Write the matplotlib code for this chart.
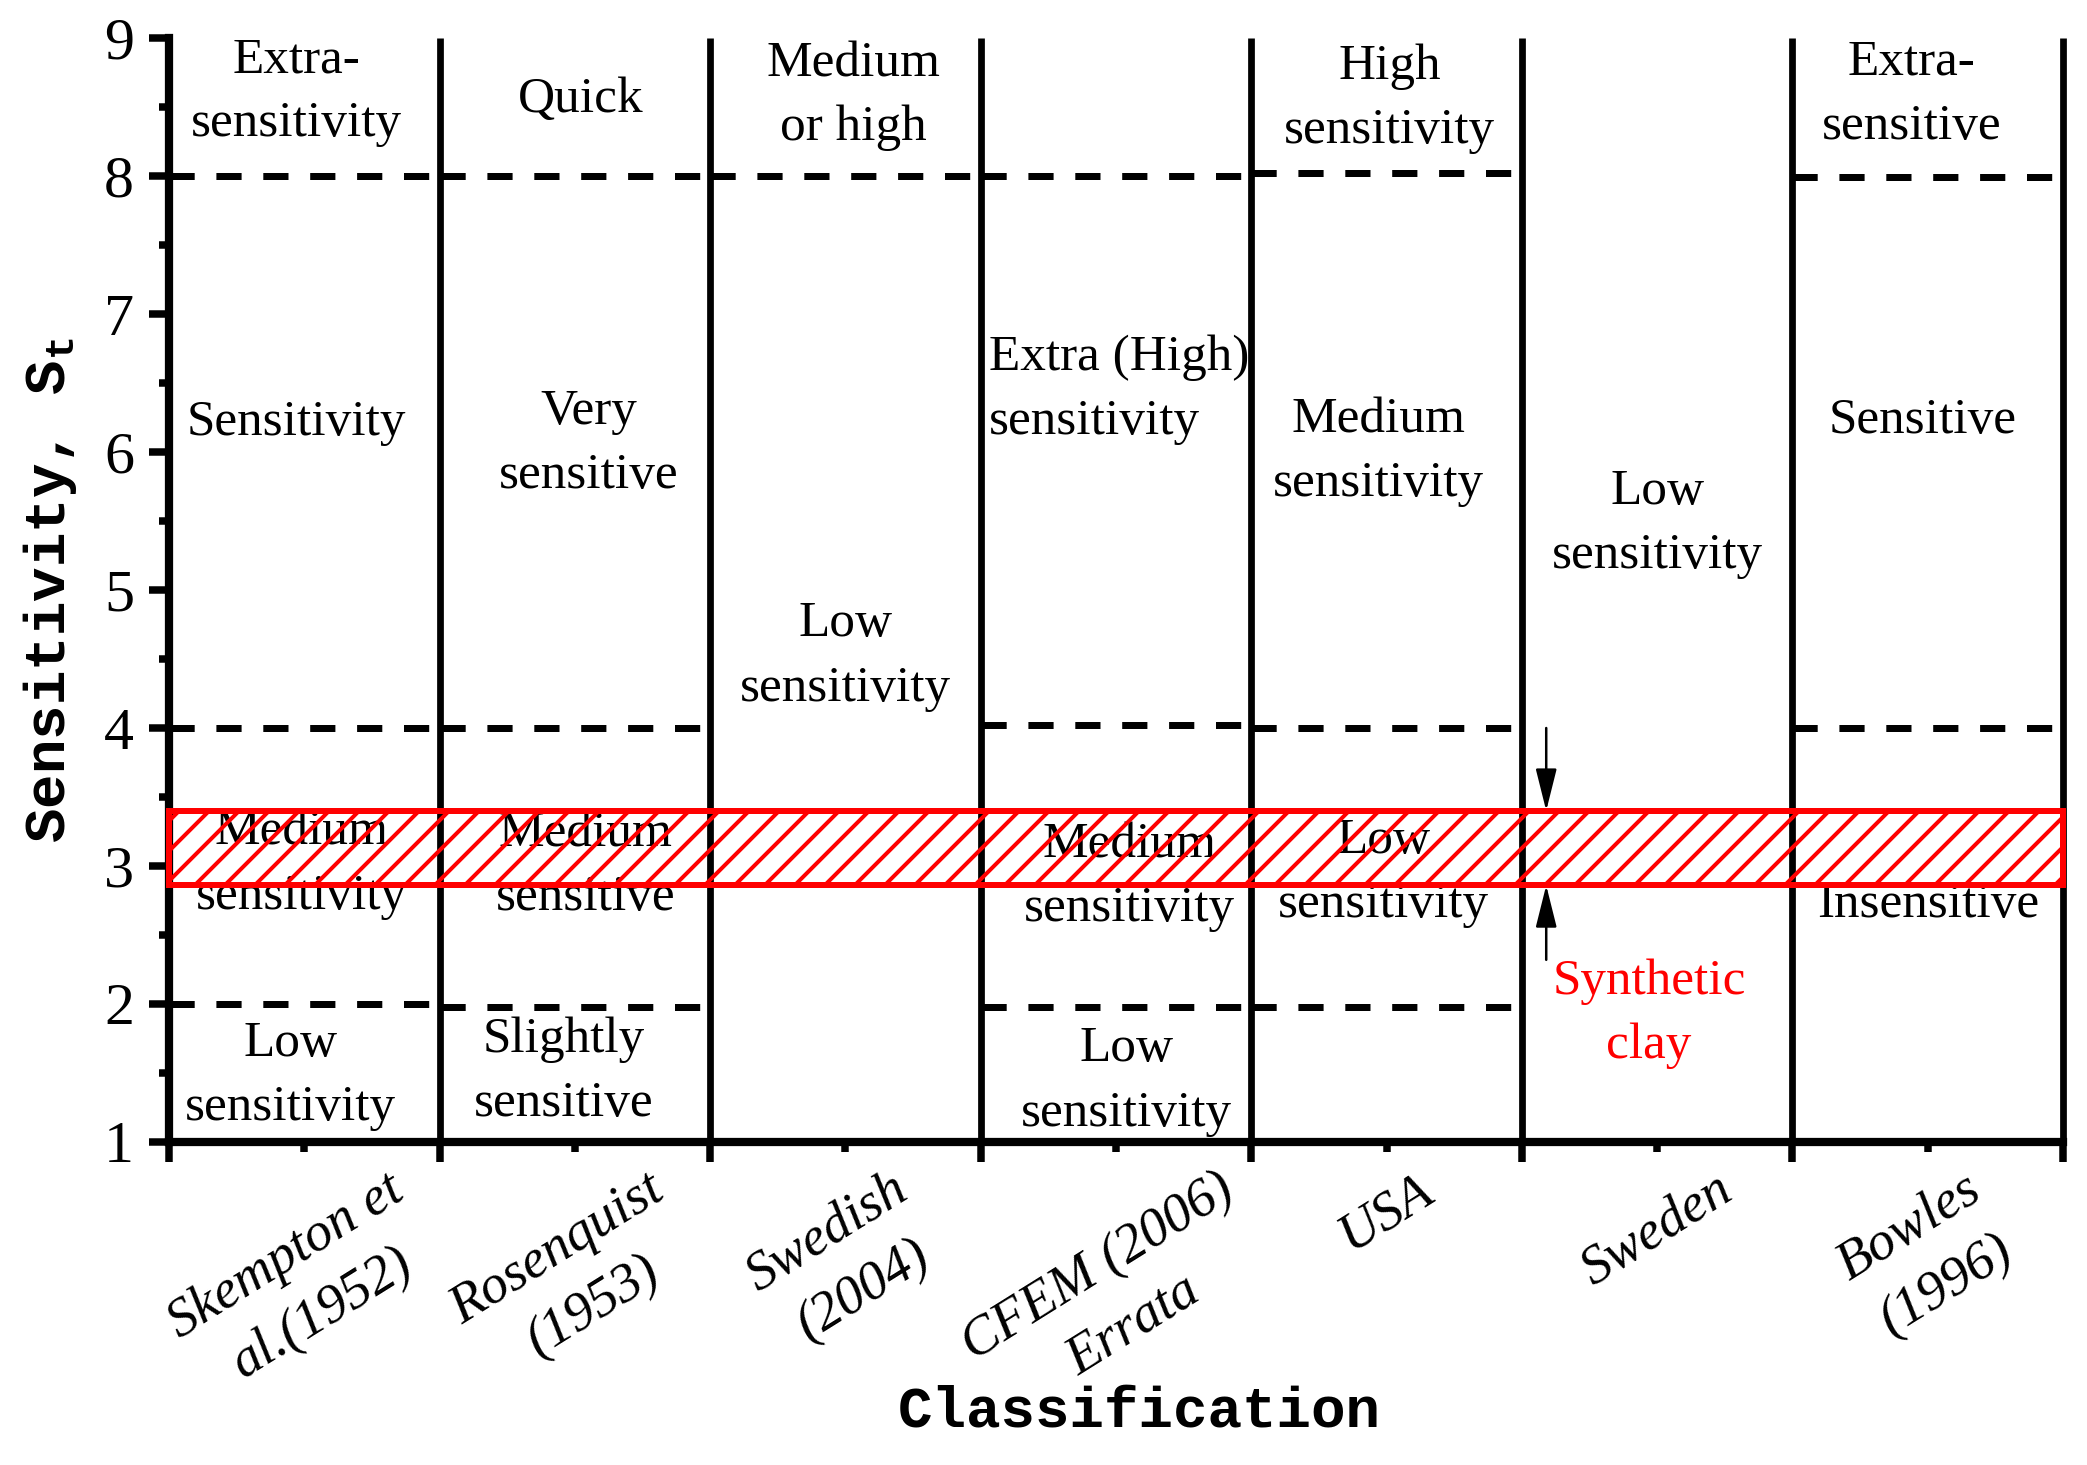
import numpy as np
import matplotlib
matplotlib.use("Agg")
import matplotlib.pyplot as plt
from matplotlib.patches import Rectangle

plt.rcParams["font.family"] = ["Liberation Serif", "DejaVu Serif"]
plt.rcParams["mathtext.fontset"] = "custom"
plt.rcParams["mathtext.rm"] = "Liberation Mono:bold"
plt.rcParams["hatch.linewidth"] = 1.6

# Data
classifications = [
    "Skempton et\nal.(1952)",
    "Rosenquist\n(1953)",
    "Swedish\n(2004)",
    "CFEM (2006)\nErrata",
    "USA",
    "Sweden",
    "Bowles\n(1996)",
]
# class boundaries (dashed lines) for each column
dash_levels = [
    [8, 4, 2],
    [8, 4, 1.98],
    [8],
    [8, 4.02, 1.98],
    [8.02, 4, 1.98],
    [],
    [7.99, 4],
]
zone_x = [0.47, 0.47, 0.49, 0.45,
          1.52, 1.55, 1.54, 1.46,
          2.53, 2.50,
          4.51, 4.47, 4.49,
          5.50,
          6.44, 6.48, 6.50,
          3.55, 3.54]
zone_y = [8.61, 6.21, 3.01, 1.48,
          8.55, 6.06, 3.00, 1.51,
          8.58, 4.52,
          8.56, 6.00, 2.95,
          5.48,
          8.59, 6.23, 2.72,
          2.92, 1.44]
zone_labels = ["Extra-\nsensitivity", "Sensitivity", "Medium\nsensitivity", "Low\nsensitivity",
               "Quick", "Very\nsensitive", "Medium\nsensitive", "Slightly\nsensitive",
               "Medium\nor high", "Low\nsensitivity",
               "High\nsensitivity", "Medium\nsensitivity", "Low\nsensitivity",
               "Low\nsensitivity",
               "Extra-\nsensitive", "Sensitive", "Insensitive",
               "Medium\nsensitivity", "Low\nsensitivity"]
cfem_label = "Extra (High)\nsensitivity"
cfem_x, cfem_y = 3.03, 6.45

band_low, band_high = 2.86, 3.4
arrow_x = 5.09
arrow_top, arrow_bottom = 4.0, 2.32
synthetic_x, synthetic_y = 5.47, 1.93

# Plot
fig = plt.figure(figsize=(2087 / 180, 1465 / 180), dpi=180)
ax = fig.add_axes([0.081, 0.2205, 0.9075, 0.7535])

for i, levels in enumerate(dash_levels):
    for lv in levels:
        ax.plot([i, i + 1], [lv, lv], color="k", lw=2.8, dashes=(3.6, 3.1),
                dash_capstyle="butt")

ax.vlines(range(1, 8), 1, 9, colors="k", lw=2.7, clip_on=False)

for x, y, s in zip(zone_x, zone_y, zone_labels):
    ax.text(x, y, s, ha="center", va="center", fontsize=20.5, linespacing=1.5,
            multialignment="center")
ax.text(cfem_x, cfem_y, cfem_label, ha="left", va="center", fontsize=20.5,
        linespacing=1.5, multialignment="left")
ax.text(synthetic_x, synthetic_y, "Synthetic\nclay", color="red", ha="center",
        va="center", fontsize=20.5, linespacing=1.5)

band = Rectangle((0, band_low), 7, band_high - band_low, facecolor="none",
                 edgecolor="red", hatch="//", lw=2.4, zorder=5, clip_on=False)
ax.add_patch(band)

arrow_style = dict(arrowstyle="-|>,head_length=0.8,head_width=0.2", color="k",
                   lw=1, mutation_scale=18, shrinkA=0, shrinkB=0)
ax.annotate("", xy=(arrow_x, band_high), xytext=(arrow_x, arrow_top),
            arrowprops=arrow_style)
ax.annotate("", xy=(arrow_x, band_low), xytext=(arrow_x, arrow_bottom),
            arrowprops=arrow_style)

ax.set_xlim(0, 7)
ax.set_ylim(1, 9)
for side in ["top", "right"]:
    ax.spines[side].set_visible(False)
for side in ["left", "bottom"]:
    ax.spines[side].set_linewidth(3.3)

ax.set_yticks(range(1, 10))
ax.set_yticks(np.arange(1.5, 9, 1), minor=True)
ax.tick_params(axis="y", which="major", length=8, width=3, labelsize=24, pad=6)
ax.tick_params(axis="y", which="minor", length=4, width=3)

ax.set_xticks(range(8))
ax.set_xticklabels([""] * 8)
ax.set_xticks(np.arange(0.5, 7, 1), minor=True)
ax.set_xticklabels(classifications, minor=True, rotation=32, fontstyle="italic",
                   fontsize=22, ha="center", va="top", linespacing=1.45)
ax.tick_params(axis="x", which="major", length=8, width=3)
ax.tick_params(axis="x", which="minor", length=4, width=3, pad=5)

ax.set_ylabel("Sensitivity, S$_\\mathrm{t}$", fontfamily="Liberation Mono",
              fontweight="bold", fontsize=23, labelpad=10)
ax.set_xlabel("Classification", fontfamily="Liberation Mono", fontweight="bold",
              fontsize=23)
ax.xaxis.set_label_coords(0.512, -0.244)
ax.xaxis.label.set_va("center")

fig.savefig("out.png", dpi=180)
